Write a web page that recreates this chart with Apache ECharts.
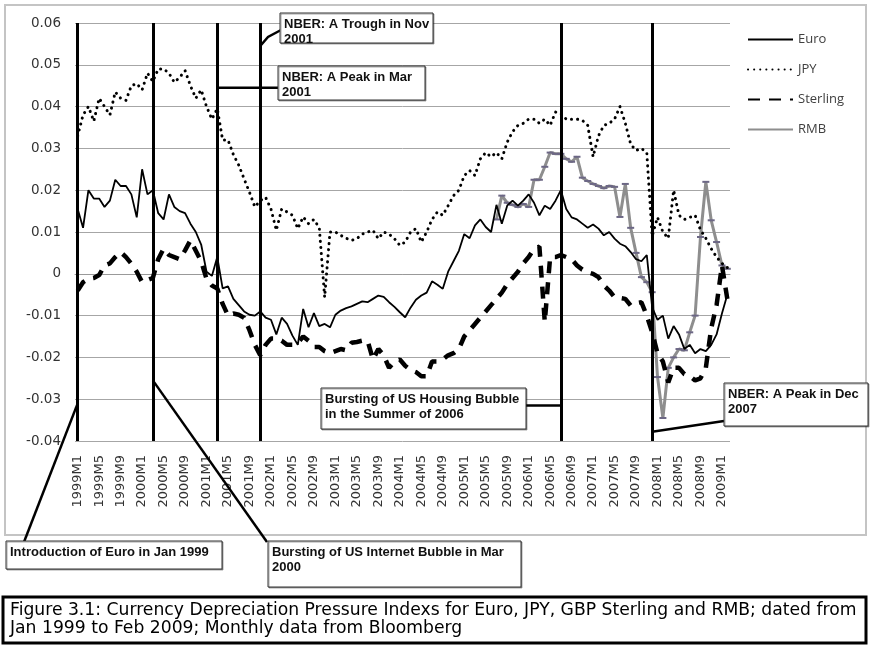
<!DOCTYPE html>
<html>
<head>
<meta charset="utf-8">
<title>Currency Depreciation Pressure Indexes</title>
<script src="https://cdn.jsdelivr.net/npm/echarts@6/dist/echarts.min.js"></script>
<style>
  html, body { margin: 0; padding: 0; background: #fff; }
  #chart { width: 870px; height: 648px; }
</style>
</head>
<body>
<div id="chart"></div>
<script>
// monthly categories 1999M1 .. 2009M2
const months = [];
for (let y = 1999; y <= 2009; y++) {
  for (let m = 1; m <= 12; m++) {
    if (y === 2009 && m > 2) break;
    months.push(y + 'M' + m);
  }
}

const euro = [
  0.0155, 0.011, 0.020, 0.018, 0.018, 0.016, 0.0175, 0.0225, 0.021, 0.021,
  0.019, 0.0135, 0.025, 0.019, 0.020, 0.0145, 0.013, 0.019, 0.016, 0.015,
  0.0145, 0.012, 0.010, 0.007, 0.0005, -0.0005, 0.004, -0.0035, -0.003, -0.006,
  -0.0075, -0.009, -0.0098, -0.010, -0.009, -0.0105, -0.011, -0.0145, -0.0105, -0.012,
  -0.0148, -0.017, -0.0084, -0.0128, -0.0094, -0.0125, -0.012, -0.0128, -0.0098, -0.0088,
  -0.0082, -0.0078, -0.0072, -0.0066, -0.0068, -0.006, -0.0052, -0.0055, -0.0068, -0.0079,
  -0.0092, -0.0104, -0.0081, -0.0062, -0.0052, -0.0045, -0.0018, -0.0026, -0.0036, 0.0005,
  0.003, 0.0055, 0.0095, 0.0085, 0.0116, 0.013, 0.0112, 0.010, 0.0165, 0.012,
  0.0163, 0.0175, 0.0163, 0.0175, 0.019, 0.017, 0.014, 0.0163, 0.0155, 0.0175,
  0.020, 0.0155, 0.0135, 0.013, 0.012, 0.011, 0.0118, 0.0108, 0.0092, 0.010,
  0.0084, 0.0072, 0.0066, 0.0052, 0.0035, 0.003, 0.0045, -0.008, -0.011, -0.010,
  -0.0155, -0.0125, -0.0145, -0.018, -0.017, -0.019, -0.018, -0.0185, -0.017, -0.0145,
  -0.0095, -0.005
];

const jpy = [
  0.033, 0.038, 0.040, 0.0365, 0.042, 0.040, 0.038, 0.0435, 0.042, 0.0415,
  0.045, 0.0455, 0.044, 0.048, 0.046, 0.049, 0.049, 0.048, 0.0458, 0.047,
  0.0486, 0.045, 0.042, 0.044, 0.040, 0.037, 0.0395, 0.032, 0.032, 0.0285,
  0.026, 0.0227, 0.0195, 0.016, 0.0175, 0.0183, 0.0155, 0.0104, 0.0155, 0.0148,
  0.014, 0.0108, 0.0136, 0.012, 0.013, 0.011, -0.0056, 0.010, 0.010, 0.0092,
  0.0085, 0.008, 0.0084, 0.0095, 0.010, 0.0104, 0.0084, 0.010, 0.0095, 0.0084,
  0.0068, 0.0076, 0.010, 0.0108, 0.0076, 0.010, 0.013, 0.0148, 0.014, 0.0163,
  0.0187, 0.020, 0.0235, 0.0247, 0.0235, 0.0275, 0.029, 0.028, 0.029, 0.0275,
  0.0315, 0.034, 0.0355, 0.036, 0.037, 0.037, 0.036, 0.037, 0.0355, 0.0387,
  0.0383, 0.037, 0.037, 0.037, 0.0367, 0.0355, 0.028, 0.033, 0.0355, 0.036,
  0.037, 0.040, 0.036, 0.031, 0.0295, 0.030, 0.029, 0.009, 0.0135, 0.010,
  0.0085, 0.020, 0.014, 0.013, 0.0135, 0.014, 0.0105, 0.0085, 0.006, 0.004,
  0.0025, 0.0015
];

const sterling = [
  -0.004, -0.002, -0.0012, -0.001, -0.0003, 0.002, 0.0025, 0.004, 0.0052, 0.004,
  0.0024, 0.0005, -0.002, -0.0015, -0.001, 0.0035, 0.006, 0.0045, 0.004, 0.0035,
  0.0056, 0.008, 0.0055, 0.003, -0.0012, -0.0028, -0.0035, -0.0072, -0.010, -0.0095,
  -0.0098, -0.0105, -0.0135, -0.017, -0.0195, -0.017, -0.0155, -0.0155, -0.016, -0.017,
  -0.017, -0.0165, -0.015, -0.016, -0.0175, -0.0175, -0.0185, -0.019, -0.0185, -0.018,
  -0.0183, -0.0165, -0.0163, -0.016, -0.016, -0.0205, -0.018, -0.0195, -0.0225, -0.021,
  -0.0205, -0.022, -0.023, -0.0235, -0.0245, -0.0245, -0.021, -0.021, -0.0205, -0.0195,
  -0.019, -0.018, -0.015, -0.0135, -0.012, -0.0105, -0.009, -0.0075, -0.006, -0.0045,
  -0.0025, -0.001, 0.0005, 0.0025, 0.004, 0.006, 0.0065, -0.0115, 0.004, 0.004,
  0.0045, 0.004, 0.0035, 0.002, 0.001, 0.0004, 0.0, -0.0008, -0.0028, -0.004,
  -0.0056, -0.0058, -0.006, -0.0076, -0.007, -0.0068, -0.010, -0.014, -0.019, -0.021,
  -0.026, -0.0225, -0.0225, -0.024, -0.0245, -0.0255, -0.025, -0.0225, -0.013, -0.0075,
  0.002, -0.006
];

// RMB starts in 2005M7
const rmbStart = '2005M7';
const rmbValues = [
  0.013, 0.0187, 0.017, 0.0165, 0.016, 0.0167, 0.016, 0.0225, 0.0225, 0.0256,
  0.029, 0.0287, 0.0287, 0.0275, 0.0268, 0.028, 0.023, 0.0222, 0.0215, 0.021,
  0.0205, 0.021, 0.0208, 0.0136, 0.0215, 0.011, 0.005, -0.0008, -0.002, -0.0044,
  -0.0247, -0.0345, -0.0225, -0.020, -0.018, -0.0183, -0.014, -0.010, 0.0088, 0.022,
  0.0128, 0.0076, 0.002, 0.0012
];
const rmb = months.map((m, i) => {
  const k = i - months.indexOf(rmbStart);
  return k >= 0 ? rmbValues[k] : null;
});

// vertical event lines
const events = ['1999M1', '2000M3', '2001M3', '2001M11', '2006M7', '2007M12'];

// annotation boxes: text, box [x, y, w, h], anchor on the event line, end point at the box
const notes = [
  { text: 'NBER: A Trough in Nov\n2001', box: [280, 13, 153, 30], at: ['2001M11', 0.0545], via: [268, 37], end: [281, 30] },
  { text: 'NBER: A Peak in Mar\n2001', box: [278, 66, 147, 34], at: ['2001M3', 0.0445], end: [278, null] },
  { text: 'Bursting of US Housing Bubble\nin the Summer of 2006', box: [321, 388, 205, 41], at: ['2006M7', -0.0315], end: [526, null] },
  { text: 'NBER: A Peak in Dec\n2007', box: [724, 383, 144, 43], at: ['2007M12', -0.0378], end: [724, 421] },
  { text: 'Introduction of Euro in Jan 1999', box: [6, 541, 216, 28], at: ['1999M1', -0.031], end: [24, 542] },
  { text: 'Bursting of US Internet Bubble in Mar\n2000', box: [268, 541, 253, 46], at: ['2000M3', -0.0255], end: [267, 542] }
];

const caption = 'Figure 3.1: Currency Depreciation Pressure Indexs for Euro, JPY, GBP Sterling and RMB; dated from\nJan 1999 to Feb 2009; Monthly data from Bloomberg';

const chart = echarts.init(document.getElementById('chart'));

const option = {
  animation: false,
  backgroundColor: '#fff',
  grid: { left: 75, right: 140, top: 23, bottom: 207 },
  legend: {
    orient: 'vertical',
    left: 742,
    top: 28,
    itemWidth: 45,
    itemHeight: 14,
    itemGap: 17,
    itemStyle: { opacity: 0 },
    textStyle: { fontFamily: 'Open Sans', fontSize: 13, color: '#404040' },
    data: ['Euro', 'JPY', 'Sterling', 'RMB']
  },
  xAxis: [
    {
      type: 'category',
      data: months,
      boundaryGap: true,
      axisLine: { show: false, onZero: false },
      axisTick: { show: false },
      axisLabel: {
        interval: 3,
        rotate: 90,
        margin: 14,
        fontFamily: 'DejaVu Sans',
        fontSize: 13,
        color: '#333'
      },
      splitLine: { show: false }
    },
    {
      type: 'category',
      data: months,
      position: 'bottom',
      boundaryGap: true,
      axisLine: { onZero: true, lineStyle: { color: '#999', width: 1 } },
      axisTick: { interval: 0, length: 4, lineStyle: { color: '#999' } },
      axisLabel: { show: false },
      splitLine: { show: false }
    }
  ],
  yAxis: {
    type: 'value',
    min: -0.04,
    max: 0.06,
    interval: 0.01,
    axisLine: { show: false },
    axisTick: { show: false },
    axisLabel: {
      margin: 14,
      fontFamily: 'DejaVu Sans',
      fontSize: 13.5,
      color: '#333',
      formatter: v => String(Math.round(v * 100) / 100)
    },
    splitLine: { lineStyle: { color: '#a6a6a6', width: 1 } }
  },
  series: [
    {
      name: 'Euro',
      type: 'line',
      data: euro,
      symbol: 'none',
      lineStyle: { color: '#000', width: 1.8 },
      itemStyle: { color: '#000' },
      z: 4,
      markLine: {
        silent: true,
        symbol: 'none',
        label: { show: false },
        lineStyle: { color: '#000', width: 3, type: 'solid' },
        data: events.map(e => ({ xAxis: e }))
      }
    },
    {
      name: 'JPY',
      type: 'line',
      data: jpy,
      symbol: 'none',
      lineStyle: { color: '#000', width: 3, type: [0.1, 6], cap: 'round' },
      itemStyle: { color: '#000' },
      z: 3
    },
    {
      name: 'Sterling',
      type: 'line',
      data: sterling,
      symbol: 'none',
      lineStyle: { color: '#000', width: 4.5, type: [12, 9] },
      itemStyle: { color: '#000' },
      z: 3
    },
    {
      name: 'RMB',
      type: 'line',
      data: rmb,
      symbol: 'rect',
      symbolSize: [7, 2],
      lineStyle: { color: '#8e8e8e', width: 3 },
      itemStyle: { color: '#6c6785' },
      z: 2
    }
  ]
};

chart.setOption(option);

// frame, annotation boxes, connectors and caption
const graphics = [
  {
    type: 'rect', z: -10, silent: true,
    shape: { x: 5, y: 5, width: 861, height: 530 },
    style: { fill: null, stroke: '#c4c4c4', lineWidth: 2 }
  },
  {
    type: 'rect', silent: true,
    shape: { x: 3, y: 597, width: 863, height: 46 },
    style: { fill: '#fff', stroke: '#000', lineWidth: 3 }
  },
  {
    type: 'text', silent: true, x: 10, y: 602,
    style: { text: caption, font: '17.2px "DejaVu Sans"', fill: '#000', lineHeight: 18 }
  }
];

notes.forEach(n => {
  const p = chart.convertToPixel({ xAxisIndex: 0, yAxisIndex: 0 }, n.at);
  const end = [n.end[0], n.end[1] === null ? p[1] : n.end[1]];
  const pts = n.via ? [p, n.via, end] : [p, end];
  graphics.push({
    type: 'polyline', silent: true, z: 10,
    shape: { points: pts },
    style: { stroke: '#000', lineWidth: 2.5, fill: null }
  });
  const [bx, by, bw, bh] = n.box;
  graphics.push({
    type: 'rect', silent: true, z: 11,
    shape: { x: bx, y: by, width: bw, height: bh },
    style: { fill: '#fff', stroke: '#333', lineWidth: 1, shadowColor: 'rgba(0,0,0,0.35)', shadowOffsetX: 1, shadowOffsetY: 1 }
  });
  graphics.push({
    type: 'text', silent: true, z: 12, x: bx + 4, y: by + 4,
    style: { text: n.text, font: 'bold 13px "Liberation Sans"', fill: '#111', lineHeight: 15 }
  });
});

chart.setOption({ graphic: graphics });
</script>
</body>
</html>
